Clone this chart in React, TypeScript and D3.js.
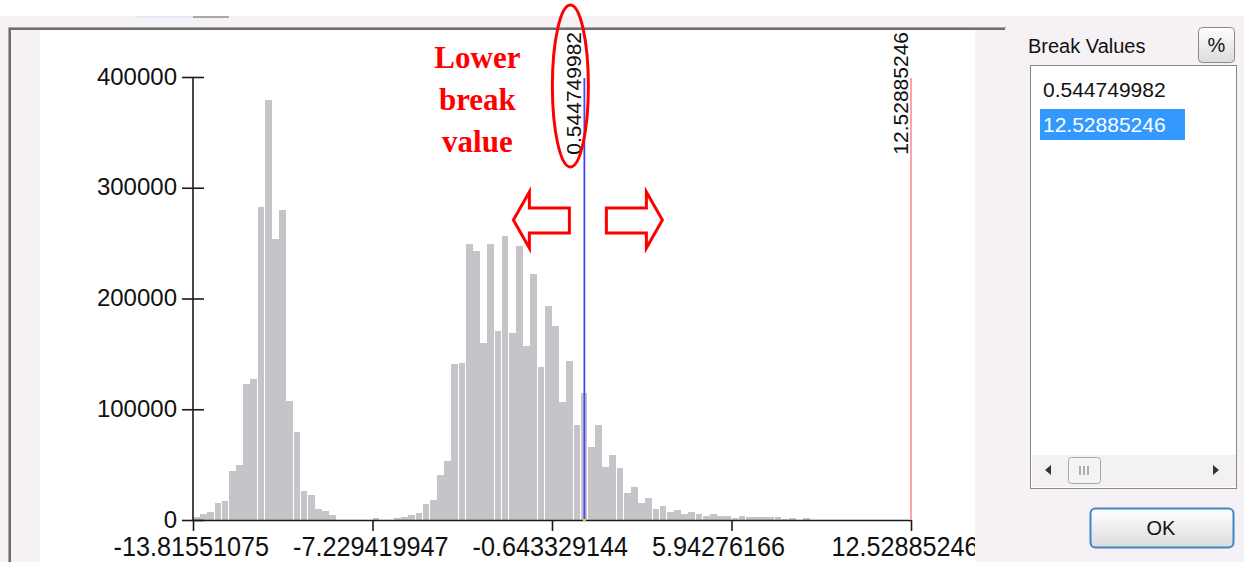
import { useEffect, useRef } from 'react';
import * as d3 from 'd3';

// histogram of raster values, 100 equal bins between min and max
const histMin = -13.81551075;
const histMax = 12.52885246;
const binCounts = [
  3000, 5100, 6900, 15600, 17400, 44500, 49700, 122800, 127600, 282900,
  379300, 254000, 279900, 107700, 79500, 26500, 22600, 9900, 8400, 4500,
  0, 0, 0, 0, 0, 2000, 0, 0, 1500, 3000,
  4500, 6600, 14400, 18000, 40600, 53600, 140900, 142000, 249200, 243200,
  160100, 249000, 171000, 256500, 169100, 247400, 157100, 222100, 138400, 193200,
  175200, 106600, 143900, 85800, 115000, 66200, 85800, 48100, 59000, 46700,
  24700, 30100, 15100, 19600, 9600, 12900, 7500, 9300, 5400, 7200,
  5100, 3600, 5700, 3900, 4000, 2000, 3600, 2500, 2500, 2500,
  2500, 2500, 1000, 2000, 0, 2000, 0, 0, 0, 0,
  0, 0, 0, 0, 0, 0, 0, 0, 0, 0,
];
const yTicks = [0, 100000, 200000, 300000, 400000];
const xTickValues = [-13.81551075, -7.229419947, -0.643329144, 5.94276166, 12.52885246];
const xTickLabels = ['-13.81551075', '-7.229419947', '-0.643329144', '5.94276166', '12.52885246'];
const breakValues = [0.544749982, 12.52885246];
const breakLabels = ['0.544749982', '12.52885246'];
const breakColors = ['#4646f2', '#ff9a9a'];
const noteLines = ['Lower', 'break', 'value'];

const W = 1244;
const H = 562;
const panelBg = '#f5f1f5';

export default function App() {
  const ref = useRef<SVGSVGElement | null>(null);

  useEffect(() => {
    if (!ref.current) return;
    document.body.style.margin = '0';
    const svg = d3.select(ref.current);
    svg.selectAll('*').remove();

    const x = d3.scaleLinear().domain([histMin, histMax]).range([193, 911]);
    const y = d3.scaleLinear().domain([0, 400000]).range([520, 77]);
    const step = (histMax - histMin) / binCounts.length;

    // window background
    svg.append('rect').attr('width', W).attr('height', H).attr('fill', '#ffffff');
    svg.append('rect').attr('y', 16).attr('width', W).attr('height', H - 16).attr('fill', panelBg);
    svg.append('rect').attr('x', 135).attr('y', 16).attr('width', 58).attr('height', 2).attr('fill', '#e4e8f2');
    svg.append('rect').attr('x', 193).attr('y', 16).attr('width', 36).attr('height', 2).attr('fill', '#a9a9a9');

    // sunken frame of the histogram control
    svg.append('path').attr('d', `M8.5,${H} V27.5 H1006`).attr('fill', 'none').attr('stroke', '#a6a6a6').attr('stroke-width', 1);
    svg.append('path').attr('d', `M10,${H} V29 H1005`).attr('fill', 'none').attr('stroke', '#6e6e6e').attr('stroke-width', 2);
    svg.append('rect').attr('x', 40).attr('y', 30).attr('width', 935).attr('height', H - 30).attr('fill', '#ffffff');

    const defs = svg.append('defs');
    defs.append('clipPath').attr('id', 'xclip').append('rect')
      .attr('x', 0).attr('y', -20).attr('width', 975).attr('height', 80);

    // bars
    svg.append('g')
      .selectAll('rect')
      .data(binCounts)
      .join('rect')
      .attr('x', (_d, i) => x(histMin + i * step))
      .attr('width', (_d, i) => x(histMin + (i + 1) * step) - x(histMin + i * step) - 0.45)
      .attr('y', (d) => y(d))
      .attr('height', (d) => y(0) - y(d))
      .attr('fill', '#c6c4c8')
      .attr('shape-rendering', 'crispEdges');

    // y axis
    const yAxis = d3.axisLeft(y).tickValues(yTicks).tickSize(11).tickPadding(5).tickFormat(d3.format('d'));
    const gy = svg.append('g').attr('transform', 'translate(193,0)').call(yAxis);
    gy.select('.domain').remove();
    gy.selectAll('.tick line').attr('x1', 11).attr('x2', -11).attr('stroke', '#1a1a1a').attr('stroke-width', 1.6);
    gy.selectAll('.tick text')
      .attr('font-family', '"Liberation Sans", Arial, sans-serif')
      .attr('font-size', 24)
      .attr('fill', '#111')
      .attr('dy', '0.3em');
    gy.append('line').attr('y1', y(400000)).attr('y2', y(0)).attr('stroke', '#1a1a1a').attr('stroke-width', 1.6);

    // x axis
    const xAxis = d3.axisBottom(x).tickValues(xTickValues).tickSize(11).tickSizeOuter(0)
      .tickFormat((_d, i) => xTickLabels[i]);
    const gx = svg.append('g').attr('transform', 'translate(0,520)').attr('clip-path', 'url(#xclip)').call(xAxis);
    gx.select('.domain').attr('stroke', '#1a1a1a').attr('stroke-width', 1.6);
    gx.selectAll('.tick line').attr('stroke', '#1a1a1a').attr('stroke-width', 1.6);
    gx.selectAll('.tick text')
      .attr('font-family', '"Liberation Sans", Arial, sans-serif')
      .attr('font-size', 28)
      .attr('fill', '#111')
      .attr('text-anchor', 'start')
      .attr('dy', null)
      .attr('y', 0)
      .attr('transform', 'translate(-80,36) scale(0.9,1)');

    // break lines and their rotated labels
    const gb = svg.append('g');
    breakValues.forEach((v, i) => {
      gb.append('line')
        .attr('x1', x(v)).attr('x2', x(v))
        .attr('y1', 78).attr('y2', y(0))
        .attr('stroke', breakColors[i]).attr('stroke-width', 1.8);
      gb.append('text')
        .attr('transform', `translate(${x(v) - 3},32) rotate(-90)`)
        .attr('text-anchor', 'end')
        .attr('font-family', '"Liberation Sans", Arial, sans-serif')
        .attr('font-size', 21)
        .attr('fill', '#111')
        .text(breakLabels[i]);
    });
    gb.append('rect').attr('x', x(breakValues[0]) - 1.5).attr('y', 519).attr('width', 3).attr('height', 2).attr('fill', '#e8e000');

    // annotation
    const xb = x(breakValues[0]);
    const ga = svg.append('g');
    ga.append('ellipse').attr('cx', xb - 14).attr('cy', 86).attr('rx', 18).attr('ry', 81)
      .attr('fill', 'none').attr('stroke', '#ff0000').attr('stroke-width', 3);
    noteLines.forEach((t, i) => {
      ga.append('text')
        .attr('x', xb - 107).attr('y', 68 + i * 42)
        .attr('text-anchor', 'middle')
        .attr('font-family', '"Liberation Serif", "Times New Roman", serif')
        .attr('font-weight', 'bold')
        .attr('font-size', 31)
        .attr('fill', '#ff0000')
        .text(t);
    });
    const arrow = (tip: number, back: number, tail: number) =>
      `M${tip},220 L${back},192 L${back},208 L${tail},208 L${tail},233 L${back},233 L${back},248 Z`;
    ga.append('path').attr('d', arrow(xb - 71, xb - 55, xb - 15))
      .attr('fill', '#ffffff').attr('stroke', '#ff0000').attr('stroke-width', 3).attr('stroke-linejoin', 'miter');
    ga.append('path').attr('d', arrow(xb + 78, xb + 62, xb + 22))
      .attr('fill', '#ffffff').attr('stroke', '#ff0000').attr('stroke-width', 3).attr('stroke-linejoin', 'miter');

    // right side panel
    const ui = '"Liberation Sans", Tahoma, Arial, sans-serif';
    const gp = svg.append('g');
    gp.append('text').attr('x', 1028).attr('y', 53).attr('font-family', ui).attr('font-size', 20).attr('fill', '#111').text('Break Values');

    const grad = defs.append('linearGradient').attr('id', 'btn').attr('x1', 0).attr('y1', 0).attr('x2', 0).attr('y2', 1);
    grad.append('stop').attr('offset', '0%').attr('stop-color', '#ffffff');
    grad.append('stop').attr('offset', '100%').attr('stop-color', '#dcdcdc');

    gp.append('rect').attr('x', 1198.5).attr('y', 27.5).attr('width', 36).attr('height', 35).attr('rx', 4)
      .attr('fill', 'url(#btn)').attr('stroke', '#8a8a8a');
    gp.append('text').attr('x', 1216.5).attr('y', 52).attr('text-anchor', 'middle').attr('font-family', ui).attr('font-size', 20).attr('fill', '#111').text('%');

    gp.append('rect').attr('x', 1030.5).attr('y', 65.5).attr('width', 206).attr('height', 423)
      .attr('fill', '#ffffff').attr('stroke', '#888888');
    gp.append('rect').attr('x', 1040).attr('y', 109).attr('width', 145).attr('height', 31).attr('fill', '#3399ff');
    breakLabels.forEach((t, i) => {
      gp.append('text').attr('x', 1043).attr('y', 97 + i * 35)
        .attr('font-family', ui).attr('font-size', 21)
        .attr('fill', i === 1 ? '#ffffff' : '#111').text(t);
    });

    // horizontal scrollbar
    gp.append('rect').attr('x', 1032).attr('y', 455).attr('width', 204).attr('height', 32).attr('fill', '#f3f1f3');
    gp.append('path').attr('d', 'M1045,470 L1051,465 L1051,475 Z').attr('fill', '#333');
    gp.append('path').attr('d', 'M1219,470 L1213,465 L1213,475 Z').attr('fill', '#333');
    gp.append('rect').attr('x', 1068.5).attr('y', 457.5).attr('width', 32).attr('height', 26).attr('rx', 3)
      .attr('fill', '#f4f4f6').attr('stroke', '#a8a8a8');
    [1080, 1084, 1088].forEach((gxp) => {
      gp.append('line').attr('x1', gxp).attr('x2', gxp).attr('y1', 466).attr('y2', 475).attr('stroke', '#666').attr('stroke-width', 1);
    });

    // OK button
    gp.append('rect').attr('x', 1090.5).attr('y', 508.5).attr('width', 143).attr('height', 39).attr('rx', 5)
      .attr('fill', 'url(#btn)').attr('stroke', '#3c86c6').attr('stroke-width', 2);
    gp.append('text').attr('x', 1161).attr('y', 535).attr('text-anchor', 'middle').attr('font-family', ui).attr('font-size', 20).attr('fill', '#111').text('OK');
  }, []);

  return (
    <svg
      ref={ref}
      width={W}
      height={H}
      style={{ position: 'absolute', left: 0, top: 0, display: 'block' }}
    />
  );
}
